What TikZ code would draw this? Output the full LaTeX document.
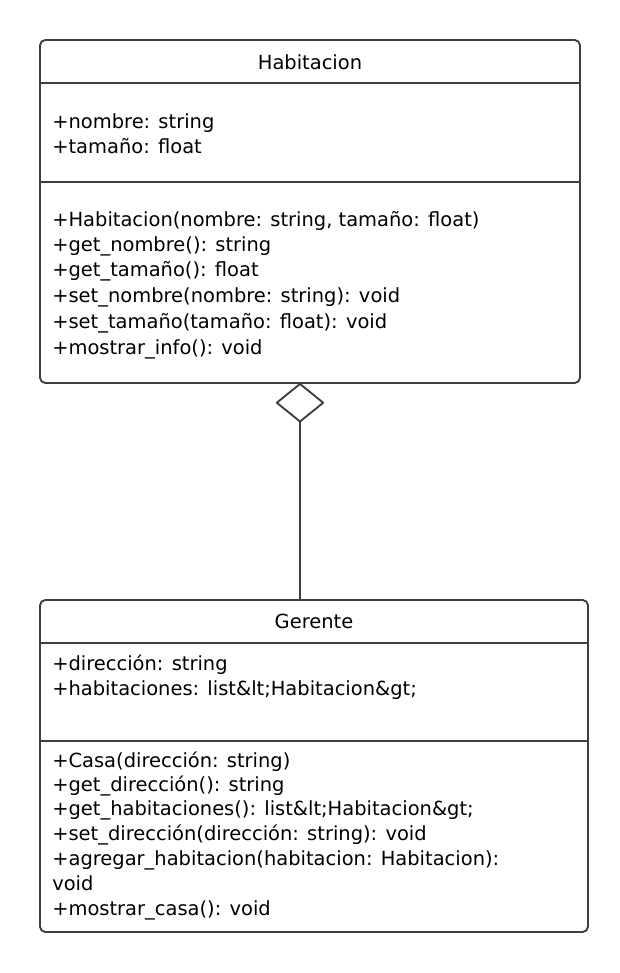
\documentclass[tikz,border=0pt]{standalone}
\usepackage{fontspec}
\setmainfont{DejaVu Sans}
\usetikzlibrary{arrows.meta}
\definecolor{linec}{HTML}{3B3E46}
\tikzset{
  classbox/.style={draw=linec,line width=1.4pt,rounded corners=4pt,fill=white},
  row/.style={anchor=west,inner sep=0pt,yshift=-3pt,text height=0.75em,text depth=0.25em,font=\fontsize{14.6pt}{17pt}\selectfont},
  ttl/.style={inner sep=0pt,yshift=-3pt,text height=0.75em,text depth=0.25em,font=\fontsize{14.6pt}{17pt}\selectfont},
  sep/.style={draw=linec,line width=1.4pt},
  aggr/.style={draw=linec,line width=1.4pt,-{Diamond[open,round,length=30pt,width=37pt,fill=white]}}
}
\begin{document}
\begin{tikzpicture}[x=0.75pt,y=-0.75pt]
\useasboundingbox (0,0) rectangle (620,973);
% Habitacion
\node[classbox,minimum width=405pt,minimum height=257.25pt] (hab) at (310,211.5) {};
\draw[sep] (hab.west |- 0,83) -- (hab.east |- 0,83);
\draw[sep] (hab.west |- 0,182) -- (hab.east |- 0,182);
\node[ttl] (habname) at (310,62) {Habitacion};
\node[row] (ha1) at (52,121) {+nombre: string};
\node[row] (ha2) at (52,146) {+tamaño: float};
\node[row] (hm1) at (52,219) {+Habitacion(nombre: string, tamaño: float)};
\node[row] (hm2) at (52,244) {+get\_nombre(): string};
\node[row] (hm3) at (52,269) {+get\_tamaño(): float};
\node[row] (hm4) at (52,295) {+set\_nombre(nombre: string): void};
\node[row] (hm5) at (52,321) {+set\_tamaño(tamaño: float): void};
\node[row] (hm6) at (52,347) {+mostrar\_info(): void};
% Gerente
\node[classbox,minimum width=411pt,minimum height=249pt] (ger) at (314,766) {};
\draw[sep] (ger.west |- 0,643) -- (ger.east |- 0,643);
\draw[sep] (ger.west |- 0,741) -- (ger.east |- 0,741);
\node[ttl] (gername) at (314,621) {Gerente};
\node[row] (ga1) at (52,663) {+dirección: string};
\node[row] (ga2) at (52,688) {+habitaciones: list\&lt;Habitacion\&gt;};
\node[row] (gm1) at (52,760) {+Casa(dirección: string)};
\node[row] (gm2) at (52,784) {+get\_dirección(): string};
\node[row] (gm3) at (52,808) {+get\_habitaciones(): list\&lt;Habitacion\&gt;};
\node[row] (gm4) at (52,833) {+set\_dirección(dirección: string): void};
\node[row] (gm5) at (52,858) {+agregar\_habitacion(habitacion: Habitacion):};
\node[row] (gm6) at (52,883) {void};
\node[row] (gm7) at (52,908) {+mostrar\_casa(): void};
% aggregation
\coordinate (gtop) at (300,600);
\coordinate (hbot) at (300,383);
\draw[aggr] (gtop) -- (hbot);
\end{tikzpicture}
\end{document}
